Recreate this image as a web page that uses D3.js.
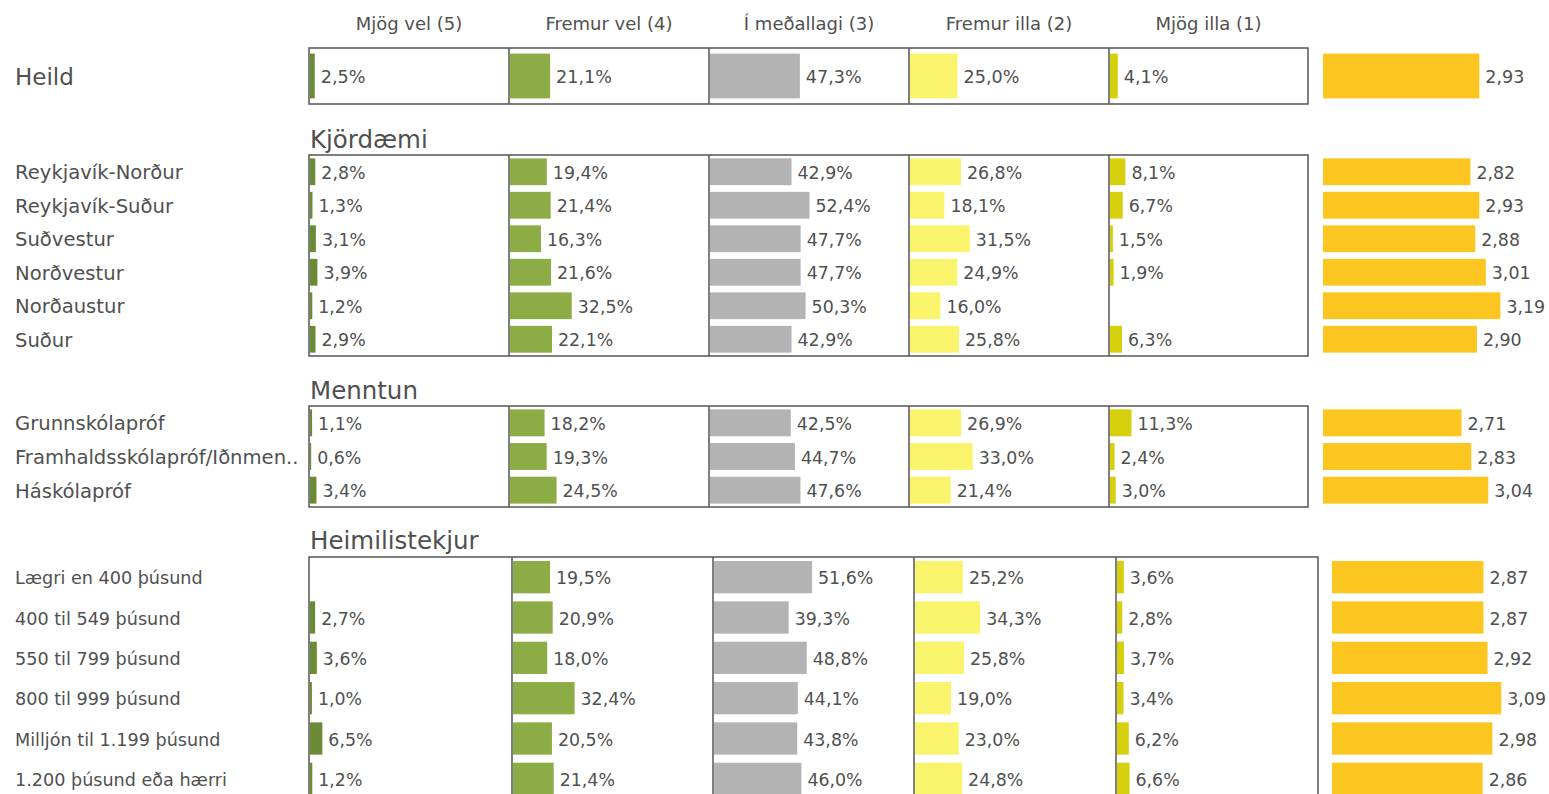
<!DOCTYPE html>
<html>
<head>
<meta charset="utf-8">
<script src="https://cdn.jsdelivr.net/npm/d3@7"></script>
<style>
  body { margin: 0; background: #fff; }
  text { font-family: "DejaVu Sans", sans-serif; fill: #505050; }
</style>
</head>
<body>
<div id="chart"></div>
<script>

// answer categories (column headers)
var columns = ["Mjög vel (5)", "Fremur vel (4)", "Í meðallagi (3)", "Fremur illa (2)", "Mjög illa (1)"];
var colColors = ["#6b8a35", "#8cad45", "#b3b3b3", "#faf46c", "#d5cf0c"];
var meanColor = "#fcc51f";

// sections and their rows
var sections = ["", "Kjördæmi", "Menntun", "Heimilistekjur"];
var categories = [
  "Heild",
  "Reykjavík-Norður", "Reykjavík-Suður", "Suðvestur", "Norðvestur", "Norðaustur", "Suður",
  "Grunnskólapróf", "Framhaldsskólapróf/Iðnmen..", "Háskólapróf",
  "Lægri en 400 þúsund", "400 til 549 þúsund", "550 til 799 þúsund", "800 til 999 þúsund",
  "Milljón til 1.199 þúsund", "1.200 þúsund eða hærri"
];
var sectionOf = [0, 1, 1, 1, 1, 1, 1, 2, 2, 2, 3, 3, 3, 3, 3, 3];

// percentages per answer (null = no value shown)
var mjogVel    = [2.5, 2.8, 1.3, 3.1, 3.9, 1.2, 2.9, 1.1, 0.6, 3.4, null, 2.7, 3.6, 1.0, 6.5, 1.2];
var fremurVel  = [21.1, 19.4, 21.4, 16.3, 21.6, 32.5, 22.1, 18.2, 19.3, 24.5, 19.5, 20.9, 18.0, 32.4, 20.5, 21.4];
var medallagi  = [47.3, 42.9, 52.4, 47.7, 47.7, 50.3, 42.9, 42.5, 44.7, 47.6, 51.6, 39.3, 48.8, 44.1, 43.8, 46.0];
var fremurIlla = [25.0, 26.8, 18.1, 31.5, 24.9, 16.0, 25.8, 26.9, 33.0, 21.4, 25.2, 34.3, 25.8, 19.0, 23.0, 24.8];
var mjogIlla   = [4.1, 8.1, 6.7, 1.5, 1.9, null, 6.3, 11.3, 2.4, 3.0, 3.6, 2.8, 3.7, 3.4, 6.2, 6.6];
var meanScore  = [2.93, 2.82, 2.93, 2.88, 3.01, 3.19, 2.90, 2.71, 2.83, 3.04, 2.87, 2.87, 2.92, 3.09, 2.98, 2.86];

var series = [mjogVel, fremurVel, medallagi, fremurIlla, mjogIlla];

// layout of each section block
var layout = [
  {top: 48,  bottom: 104, colX: [309, 509, 709, 909, 1109, 1308], meanX: 1323, font: 17.6, labelFont: 23},
  {top: 155, bottom: 356, colX: [309, 509, 709, 909, 1109, 1308], meanX: 1323, font: 17.4, labelFont: 19.6, titleY: 139},
  {top: 406, bottom: 507, colX: [309, 509, 709, 909, 1109, 1308], meanX: 1323, font: 17.4, labelFont: 19.6, titleY: 390},
  {top: 557, bottom: 799, colX: [309, 512, 713, 914, 1116, 1318], meanX: 1332, font: 17.4, labelFont: 17.6, titleY: 540}
];

var width = 1549, height = 794;
var svg = d3.select("#chart").append("svg")
    .attr("width", width)
    .attr("height", height);

var pct = d3.scaleLinear().domain([0, 100]).range([0, 190]);
var meanScale = d3.scaleLinear().domain([1, 5]).range([0, 324]);
var fmtPct = function(v) { return d3.format(".1f")(v).replace(".", ",") + "%"; };
var fmtMean = function(v) { return d3.format(".2f")(v).replace(".", ","); };

// header
var hdr = layout[0].colX;
svg.append("g").selectAll("text")
  .data(columns)
  .join("text")
    .attr("x", function(d, i) { return (hdr[i] + hdr[i + 1]) / 2; })
    .attr("y", 23)
    .attr("text-anchor", "middle")
    .attr("dominant-baseline", "central")
    .style("font-size", "18px")
    .text(function(d) { return d; });

sections.forEach(function(sec, s) {
  var L = layout[s];
  var idx = d3.range(categories.length).filter(function(i) { return sectionOf[i] === s; });
  var y = d3.scaleBand().domain(idx).range([L.top, L.bottom]).paddingInner(0.2).paddingOuter(0.1);
  var mid = function(i) { return y(i) + y.bandwidth() / 2 + 1; };
  var g = svg.append("g");

  if (sec) {
    g.append("text")
      .attr("x", L.colX[0] + 1)
      .attr("y", L.titleY)
      .attr("dominant-baseline", "central")
      .style("font-size", "24.5px")
      .text(sec);
  }

  // row labels
  g.selectAll(".rowlabel")
    .data(idx)
    .join("text")
      .attr("x", 15)
      .attr("y", mid)
      .attr("dominant-baseline", "central")
      .style("font-size", L.labelFont + "px")
      .text(function(i) { return categories[i]; });

  // bars per answer column
  series.forEach(function(vals, c) {
    var x0 = L.colX[c] + 1;
    var rows = idx.filter(function(i) { return vals[i] != null; });
    g.selectAll(".bar" + c)
      .data(rows)
      .join("rect")
        .attr("x", x0)
        .attr("y", function(i) { return y(i); })
        .attr("width", function(i) { return pct(vals[i]); })
        .attr("height", y.bandwidth())
        .attr("fill", colColors[c]);
    g.selectAll(".lbl" + c)
      .data(rows)
      .join("text")
        .attr("x", function(i) { return x0 + pct(vals[i]) + 6; })
        .attr("y", mid)
        .attr("dominant-baseline", "central")
        .style("font-size", L.font + "px")
        .text(function(i) { return fmtPct(vals[i]); });
  });

  // frame and column dividers
  g.append("rect")
    .attr("x", L.colX[0])
    .attr("y", L.top)
    .attr("width", L.colX[5] - L.colX[0])
    .attr("height", L.bottom - L.top)
    .attr("fill", "none")
    .attr("stroke", "#555")
    .attr("stroke-width", 1.5);
  g.selectAll(".div")
    .data(L.colX.slice(1, 5))
    .join("line")
      .attr("x1", function(d) { return d; })
      .attr("x2", function(d) { return d; })
      .attr("y1", L.top)
      .attr("y2", L.bottom)
      .attr("stroke", "#555")
      .attr("stroke-width", 1.5);

  // mean score
  g.selectAll(".mean")
    .data(idx)
    .join("rect")
      .attr("x", L.meanX)
      .attr("y", function(i) { return y(i); })
      .attr("width", function(i) { return meanScale(meanScore[i]); })
      .attr("height", y.bandwidth())
      .attr("fill", meanColor);
  g.selectAll(".meanlbl")
    .data(idx)
    .join("text")
      .attr("x", function(i) { return L.meanX + meanScale(meanScore[i]) + 6; })
      .attr("y", mid)
      .attr("dominant-baseline", "central")
      .style("font-size", L.font + "px")
      .text(function(i) { return fmtMean(meanScore[i]); });
});

</script>
</body>
</html>
